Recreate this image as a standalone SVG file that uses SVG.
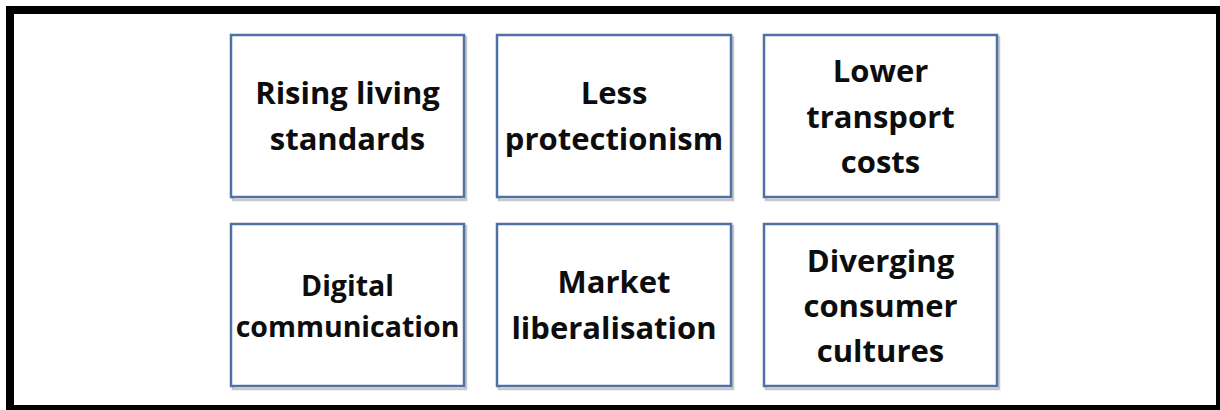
<svg xmlns="http://www.w3.org/2000/svg" width="1220" height="410" viewBox="0 0 1220 410">
<style>
.box{fill:#ffffff;stroke:#4f71a6;stroke-width:2.5}
.sh{fill:none;stroke:#9a9a9a;stroke-width:2.5;opacity:0.55}
.t{font-family:"Open Sans","Liberation Sans",sans-serif;font-weight:bold;font-size:31px;fill:#0d0d0d;text-anchor:middle}
.s{font-size:28.5px}
</style>
<rect x="0" y="0" width="1220" height="410" fill="#ffffff"/>
<rect x="10" y="10" width="1210" height="399" fill="#ffffff" stroke="#000000" stroke-width="8"/>
<g id="n1">
<rect class="sh" x="233" y="37" width="233" height="163"/>
<rect class="box" x="231" y="35" width="233" height="162"/>
<text class="t" x="347.5" y="104">Rising living</text>
<text class="t" x="347.5" y="150">standards</text>
</g>
<g id="n2">
<rect class="sh" x="499" y="37" width="234" height="163"/>
<rect class="box" x="497" y="35" width="234" height="162"/>
<text class="t" x="614" y="104">Less</text>
<text class="t" x="614" y="150">protectionism</text>
</g>
<g id="n3">
<rect class="sh" x="766" y="37" width="233" height="163"/>
<rect class="box" x="764" y="35" width="233" height="162"/>
<text class="t" x="880.5" y="82">Lower</text>
<text class="t" x="880.5" y="128">transport</text>
<text class="t" x="880.5" y="173">costs</text>
</g>
<g id="n4">
<rect class="sh" x="233" y="226" width="233" height="163"/>
<rect class="box" x="231" y="224" width="233" height="162"/>
<text class="t s" x="347.5" y="296">Digital</text>
<text class="t s" x="347.5" y="337">communication</text>
</g>
<g id="n5">
<rect class="sh" x="499" y="226" width="234" height="163"/>
<rect class="box" x="497" y="224" width="234" height="162"/>
<text class="t" x="614" y="293">Market</text>
<text class="t" x="614" y="339">liberalisation</text>
</g>
<g id="n6">
<rect class="sh" x="766" y="226" width="233" height="163"/>
<rect class="box" x="764" y="224" width="233" height="162"/>
<text class="t" x="880.5" y="272">Diverging</text>
<text class="t" x="880.5" y="317">consumer</text>
<text class="t" x="880.5" y="362">cultures</text>
</g>
<g id="connectors"></g>
</svg>
